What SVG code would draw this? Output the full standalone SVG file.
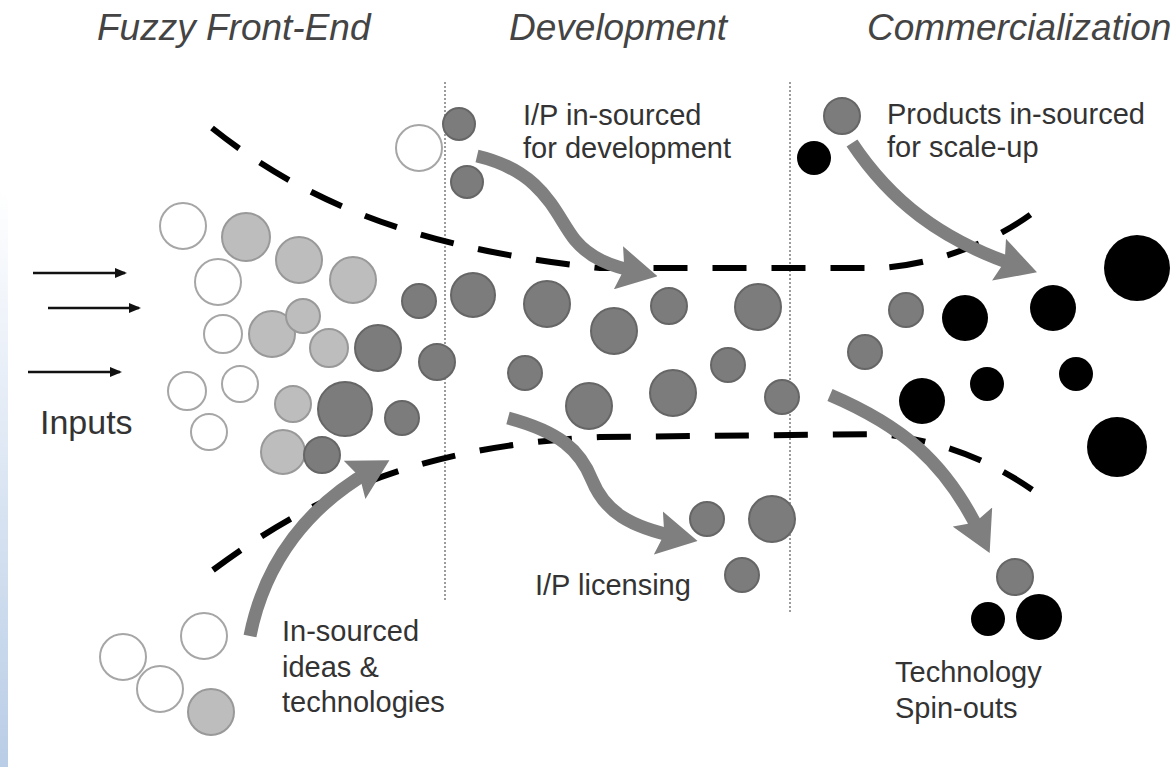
<svg xmlns="http://www.w3.org/2000/svg" width="1176" height="767" viewBox="0 0 1176 767">
<defs>
<linearGradient id="strip" x1="0" y1="0" x2="0" y2="1">
<stop offset="0" stop-color="#ffffff"/>
<stop offset="0.35" stop-color="#e6edf7"/>
<stop offset="1" stop-color="#b9cde6"/>
</linearGradient>
<marker id="grayHead" markerUnits="userSpaceOnUse" markerWidth="40" markerHeight="44" viewBox="0 0 40 44" refX="20" refY="22" orient="auto">
<path d="M0,0 L40,22 L0,44 L6,22 Z" fill="#7f7f7f"/>
</marker>
<marker id="blackHead" markerUnits="userSpaceOnUse" markerWidth="12" markerHeight="10" viewBox="0 0 12 10" refX="10" refY="5" orient="auto">
<path d="M0,0 L12,5 L0,10 Z" fill="#111"/>
</marker>
<style>
.open{fill:#fff;stroke:#a6a6a6;stroke-width:2}
.lt{fill:#bdbdbd;stroke:#999;stroke-width:2}
.md{fill:#7c7c7c;stroke:#666;stroke-width:2}
.bk{fill:#000}
.ttl{font-family:"Liberation Sans",Arial,sans-serif;font-style:italic;font-size:37px;fill:#444}
.lbl{font-family:"Liberation Sans",Arial,sans-serif;font-size:29px;fill:#333}
.dot{stroke:#9c9c9c;stroke-width:2;stroke-dasharray:2 2;fill:none}
.dash{stroke:#000;stroke-width:6;stroke-dasharray:34 25;fill:none}
.garrow{stroke:#7f7f7f;stroke-width:13;fill:none;marker-end:url(#grayHead)}
.inarrow{stroke:#111;stroke-width:2.5;fill:none;marker-end:url(#blackHead)}
</style>
</defs>
<rect x="0" y="0" width="1176" height="767" fill="#fff"/>
<rect x="0" y="190" width="8" height="577" fill="url(#strip)"/>

<g id="stage-titles">
<text class="ttl" x="97" y="40">Fuzzy Front-End</text>
<text class="ttl" x="509" y="40">Development</text>
<text class="ttl" x="867" y="40">Commercialization</text>
</g>

<g id="stage-dividers">
<line class="dot" x1="445" y1="82" x2="445" y2="600"/>
<line class="dot" x1="790" y1="82" x2="790" y2="612"/>
</g>

<g id="connectors">
<path class="dash" d="M212 128 C312 208 430 250 600 268 L880 268 C930 265 990 245 1034 212"/>
<path class="dash" d="M213 570 C320 490 430 445 600 437 L880 434 C940 440 990 460 1034 491"/>
<line class="inarrow" x1="33" y1="273" x2="125" y2="273"/>
<line class="inarrow" x1="48" y1="308" x2="139" y2="308"/>
<line class="inarrow" x1="28" y1="372" x2="120" y2="372"/>
<path class="garrow" d="M250 636 C265 560 310 505 372 470"/>
<path class="garrow" d="M477 156 C545 172 555 215 575 240 C590 258 610 266 638 272"/>
<path class="garrow" d="M508 418 C560 432 580 450 592 480 C605 512 630 527 678 537"/>
<path class="garrow" d="M852 143 C890 200 940 240 1018 266"/>
<path class="garrow" d="M830 395 C900 425 945 460 981 535"/>
</g>

<g id="inputs">
<text class="lbl" x="40" y="434" style="font-size:34px">Inputs</text>
</g>

<g id="fuzzy-front-end-ideas">
<circle class="open" cx="183" cy="226" r="23"/>
<circle class="open" cx="218" cy="282" r="23"/>
<circle class="open" cx="223" cy="334" r="19"/>
<circle class="open" cx="187" cy="391" r="19"/>
<circle class="open" cx="240" cy="384" r="18"/>
<circle class="open" cx="209" cy="432" r="18"/>
<circle class="lt" cx="246" cy="237" r="24"/>
<circle class="lt" cx="299" cy="260" r="23"/>
<circle class="lt" cx="353" cy="280" r="23"/>
<circle class="lt" cx="272" cy="334" r="23"/>
<circle class="lt" cx="303" cy="316" r="17"/>
<circle class="lt" cx="329" cy="348" r="19"/>
<circle class="lt" cx="293" cy="404" r="18"/>
<circle class="lt" cx="283" cy="452" r="22"/>
<circle class="md" cx="419" cy="301" r="17"/>
<circle class="md" cx="378" cy="348" r="23"/>
<circle class="md" cx="437" cy="362" r="18"/>
<circle class="md" cx="345" cy="409" r="27"/>
<circle class="md" cx="402" cy="418" r="17"/>
<circle class="md" cx="322" cy="455" r="18"/>
</g>

<g id="insourced-ideas">
<circle class="open" cx="123" cy="657" r="23"/>
<circle class="open" cx="160" cy="689" r="23"/>
<circle class="open" cx="204" cy="636" r="23"/>
<circle class="lt" cx="211" cy="712" r="23"/>
<text class="lbl" x="282" y="641">In-sourced</text>
<text class="lbl" x="282" y="677">ideas &amp;</text>
<text class="lbl" x="282" y="712">technologies</text>
</g>

<g id="ip-insourced">
<circle class="open" cx="419" cy="148" r="23"/>
<circle class="md" cx="459" cy="124" r="16"/>
<circle class="md" cx="467" cy="182" r="16"/>
<text class="lbl" x="523" y="125">I/P in-sourced</text>
<text class="lbl" x="523" y="158">for development</text>
</g>

<g id="development-projects">
<circle class="md" cx="473" cy="295" r="22"/>
<circle class="md" cx="547" cy="304" r="23"/>
<circle class="md" cx="614" cy="331" r="23"/>
<circle class="md" cx="669" cy="306" r="18"/>
<circle class="md" cx="758" cy="307" r="23"/>
<circle class="md" cx="525" cy="373" r="17"/>
<circle class="md" cx="589" cy="406" r="23"/>
<circle class="md" cx="673" cy="393" r="23"/>
<circle class="md" cx="728" cy="365" r="17"/>
<circle class="md" cx="782" cy="397" r="17"/>
</g>

<g id="ip-licensing">
<circle class="md" cx="707" cy="519" r="17"/>
<circle class="md" cx="772" cy="519" r="23"/>
<circle class="md" cx="742" cy="575" r="17"/>
<text class="lbl" x="535" y="595">I/P licensing</text>
</g>

<g id="products-insourced">
<circle class="md" cx="842" cy="116" r="18"/>
<circle class="bk" cx="814" cy="158" r="17"/>
<text class="lbl" x="887" y="124">Products in-sourced</text>
<text class="lbl" x="887" y="157">for scale-up</text>
</g>

<g id="commercialization-products">
<circle class="md" cx="906" cy="310" r="17"/>
<circle class="md" cx="865" cy="352" r="17"/>
<circle class="bk" cx="965" cy="318" r="23"/>
<circle class="bk" cx="1053" cy="308" r="23"/>
<circle class="bk" cx="1137" cy="268" r="33"/>
<circle class="bk" cx="922" cy="401" r="23"/>
<circle class="bk" cx="987" cy="384" r="17"/>
<circle class="bk" cx="1076" cy="374" r="17"/>
<circle class="bk" cx="1117" cy="447" r="30"/>
</g>

<g id="technology-spinouts">
<circle class="md" cx="1015" cy="577" r="18"/>
<circle class="bk" cx="988" cy="619" r="17"/>
<circle class="bk" cx="1039" cy="617" r="23"/>
<text class="lbl" x="895" y="682">Technology</text>
<text class="lbl" x="895" y="718">Spin-outs</text>
</g>
</svg>
